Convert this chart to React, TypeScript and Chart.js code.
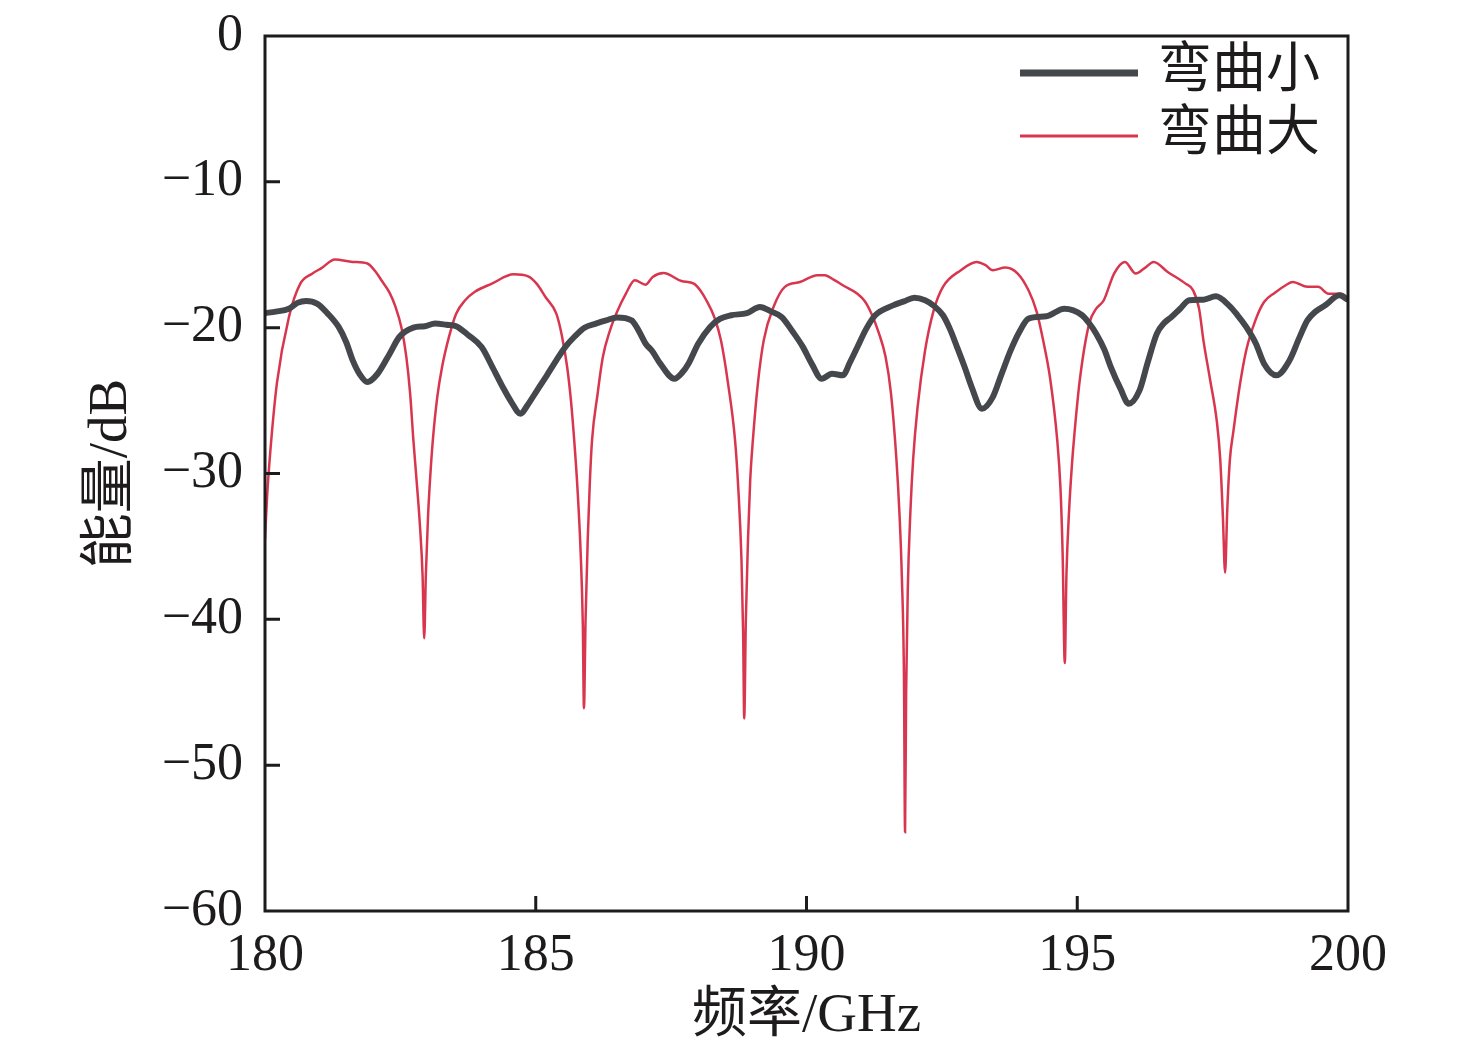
import { useEffect, useRef } from 'react'
import Chart, { ChartOptions, Plugin } from 'chart.js/auto'

const freqSmall = [
  180.0, 180.2, 180.44, 180.6, 180.76, 180.96, 181.15, 181.36, 181.5, 181.62, 181.75, 181.89, 182.08, 182.3,
  182.48, 182.74, 182.95, 183.14, 183.35, 183.53, 183.75, 184.0, 184.2, 184.39, 184.55, 184.72, 184.85, 184.99,
  185.2, 185.38, 185.55, 185.71, 185.9, 186.11, 186.3, 186.5, 186.77, 186.9, 187.03, 187.15, 187.3, 187.56,
  187.7, 187.82, 188.0, 188.22, 188.4, 188.61, 188.9, 189.14, 189.35, 189.54, 189.75, 189.93, 190.1, 190.28,
  190.47, 190.67, 190.8, 190.94, 191.1, 191.27, 191.6, 191.8, 191.99, 192.19, 192.35, 192.52, 192.65, 192.78,
  192.92, 193.05, 193.24, 193.44, 193.6, 193.77, 193.93, 194.1, 194.43, 194.76, 195.09, 195.22, 195.35, 195.5,
  195.62, 195.8, 195.95, 196.15, 196.3, 196.47, 196.6, 196.74, 196.9, 197.07, 197.33, 197.56, 197.8, 197.95,
  198.12, 198.3, 198.45, 198.68, 198.92, 199.1, 199.25, 199.4, 199.58, 199.84, 200.0,
]
const levelSmall = [
  -19.0, -18.9, -18.7, -18.3, -18.17, -18.35, -19.0, -19.95, -21.0, -22.24, -23.2, -23.73, -23.16, -21.8,
  -20.64, -20.0, -19.9, -19.72, -19.8, -19.9, -20.5, -21.33, -22.7, -24.07, -25.1, -25.9, -25.3, -24.5,
  -23.3, -22.24, -21.3, -20.64, -20.0, -19.72, -19.5, -19.3, -19.5, -20.2, -21.1, -21.6, -22.47, -23.5,
  -23.1, -22.47, -21.1, -19.95, -19.4, -19.15, -19.0, -18.58, -18.9, -19.27, -20.3, -21.3, -22.5, -23.5,
  -23.16, -23.27, -22.4, -21.33, -20.1, -19.15, -18.47, -18.2, -17.94, -18.12, -18.5, -19.15, -20.1, -21.33,
  -22.7, -24.07, -25.56, -24.76, -23.2, -21.56, -20.3, -19.38, -19.22, -18.7, -19.15, -19.7, -20.41, -21.5,
  -22.7, -24.2, -25.21, -24.3, -22.4, -20.41, -19.7, -19.27, -18.7, -18.12, -18.08, -17.85, -18.47, -19.1,
  -19.95, -21.1, -22.47, -23.27, -22.24, -20.7, -19.5, -18.9, -18.47, -17.78, -18.1,
]

const freqLarge = [
  180.0, 180.04, 180.1, 180.22, 180.44, 180.65, 180.87, 181.05, 181.29, 181.62, 181.89, 182.05, 182.15, 182.3,
  182.41, 182.52, 182.61, 182.68, 182.74, 182.8, 182.86, 182.91, 182.94, 182.97, 183.01, 183.05, 183.1, 183.18,
  183.27, 183.4, 183.53, 183.7, 183.87, 184.19, 184.59, 184.86, 185.02, 185.18, 185.38, 185.48, 185.58, 185.65,
  185.71, 185.77, 185.83, 185.87, 185.89, 185.92, 185.96, 186.0, 186.04, 186.14, 186.24, 186.37, 186.5, 186.66,
  186.83, 187.03, 187.16, 187.36, 187.69, 187.92, 188.05, 188.15, 188.3, 188.42, 188.55, 188.68, 188.74, 188.8,
  188.83, 188.85, 188.88, 188.92, 188.96, 189.01, 189.1, 189.21, 189.4, 189.6, 189.88, 190.2, 190.34, 190.5,
  190.67, 190.94, 191.08, 191.2, 191.33, 191.46, 191.56, 191.66, 191.72, 191.76, 191.8, 191.82, 191.84, 191.87,
  191.92, 191.97, 192.05, 192.19, 192.35, 192.52, 192.85, 193.14, 193.3, 193.44, 193.67, 193.9, 194.1, 194.25,
  194.37, 194.5, 194.63, 194.69, 194.73, 194.77, 194.8, 194.85, 194.9, 194.95, 195.05, 195.22, 195.35, 195.49,
  195.68, 195.88, 196.08, 196.25, 196.41, 196.67, 197.0, 197.14, 197.25, 197.33, 197.45, 197.58, 197.64, 197.69,
  197.73, 197.77, 197.82, 197.88, 198.0, 198.12, 198.3, 198.45, 198.65, 198.85, 198.98, 199.25, 199.45, 199.64,
  199.88, 200.0,
]
const levelLarge = [
  -34.5, -31.5, -28.4, -23.8, -19.3, -17.0, -16.3, -15.9, -15.33, -15.49, -15.6, -16.2, -16.75, -17.6,
  -18.58, -20.0, -22.0, -24.5, -27.7, -30.5, -33.5, -37.0, -41.3, -37.0, -33.0, -30.3, -27.7, -24.8,
  -22.7, -20.6, -19.04, -18.1, -17.55, -16.98, -16.34, -16.48, -17.0, -17.9, -19.04, -20.5, -22.7, -25.0,
  -27.7, -31.0, -35.5, -40.5, -46.1, -40.0, -34.5, -30.5, -27.7, -24.6, -22.0, -20.2, -18.93, -17.7,
  -16.75, -17.05, -16.52, -16.25, -16.8, -16.98, -17.5, -18.12, -19.3, -20.87, -23.8, -27.7, -31.0, -36.0,
  -41.0, -46.8, -40.0, -34.5, -30.5, -27.7, -23.9, -20.87, -18.5, -17.2, -16.87, -16.4, -16.4, -16.7,
  -17.09, -17.67, -18.2, -19.04, -20.3, -22.0, -24.5, -29.0, -33.0, -37.0, -44.0, -54.6, -45.0, -38.0,
  -32.5, -29.0, -25.5, -21.56, -18.8, -17.2, -16.06, -15.49, -15.7, -16.06, -15.88, -16.29, -17.44, -18.9,
  -20.87, -23.5, -27.7, -31.0, -35.5, -43.0, -37.0, -32.5, -29.5, -27.2, -23.5, -19.72, -18.7, -18.12,
  -16.29, -15.49, -16.29, -15.9, -15.49, -16.18, -16.98, -17.44, -18.7, -20.87, -23.5, -26.5, -29.0, -33.0,
  -36.8, -32.5, -29.0, -27.2, -24.0, -21.56, -19.4, -18.24, -17.6, -17.09, -16.87, -17.2, -17.2, -17.67,
  -17.67, -18.0,
]

const seriesLabels = ['弯曲小', '弯曲大']
const seriesColors = ['#44474c', '#d8364f']
const seriesWidths = [6, 2.5]
const xTicks = [180, 185, 190, 195, 200]
const yTicks = [-60, -50, -40, -30, -20, -10, 0]

const W = 1476
const H = 1058
const FONT = "'Liberation Serif', 'Noto Sans CJK SC', serif"
const INK = '#1d1b1c'

const framePlugin: Plugin<'line'> = {
  id: 'frame',
  afterDraw(chart) {
    const { ctx, chartArea: a } = chart
    const xs = chart.scales.x
    const ys = chart.scales.y
    ctx.save()
    ctx.strokeStyle = INK
    ctx.lineWidth = 3
    ctx.strokeRect(a.left, a.top, a.right - a.left, a.bottom - a.top)
    ctx.beginPath()
    xTicks.slice(1, -1).forEach((v) => {
      const px = xs.getPixelForValue(v)
      ctx.moveTo(px, a.bottom)
      ctx.lineTo(px, a.bottom - 15)
    })
    yTicks.slice(1, -1).forEach((v) => {
      const py = ys.getPixelForValue(v)
      ctx.moveTo(a.left, py)
      ctx.lineTo(a.left + 15, py)
    })
    ctx.stroke()

    // legend
    ctx.textBaseline = 'middle'
    ctx.textAlign = 'left'
    ctx.font = `54px ${FONT}`
    const rows = [73, 136]
    seriesLabels.forEach((label, i) => {
      ctx.strokeStyle = seriesColors[i]
      ctx.lineWidth = i === 0 ? 7 : 3
      ctx.beginPath()
      ctx.moveTo(1020, rows[i])
      ctx.lineTo(1138, rows[i])
      ctx.stroke()
      ctx.fillStyle = INK
      ctx.fillText(label, 1158, rows[i])
    })

    // axis titles
    ctx.fillStyle = INK
    ctx.font = `55px ${FONT}`
    ctx.textAlign = 'center'
    ctx.fillText('频率/GHz', (a.left + a.right) / 2, 1017)
    ctx.translate(112, (a.top + a.bottom) / 2)
    ctx.rotate(-Math.PI / 2)
    ctx.fillText('能量/dB', 0, 0)
    ctx.restore()
  },
}

export default function App() {
  const canvasRef = useRef<HTMLCanvasElement>(null)
  const chartRef = useRef<Chart | null>(null)

  useEffect(() => {
    document.body.style.margin = '0'
    if (!canvasRef.current) return
    if (chartRef.current) chartRef.current.destroy()

    const options: ChartOptions<'line'> = {
      responsive: false,
      animation: false,
      devicePixelRatio: 1,
      layout: { padding: { top: 36, right: 128, left: 0, bottom: 0 } },
      plugins: { legend: { display: false }, tooltip: { enabled: false } },
      elements: { point: { radius: 0 } },
      scales: {
        x: {
          type: 'linear',
          min: 180,
          max: 200,
          afterFit: (s) => {
            s.height = H - 911
            s.paddingLeft = 0
            s.paddingRight = 0
          },
          afterBuildTicks: (s) => { s.ticks = xTicks.map((v) => ({ value: v })) },
          grid: { display: false, drawTicks: false },
          border: { display: false },
          ticks: { color: INK, font: { family: FONT, size: 52 }, padding: 14, maxRotation: 0 },
        },
        y: {
          type: 'linear',
          min: -60,
          max: 0,
          afterFit: (s) => {
            s.width = 265
            s.paddingTop = 0
            s.paddingBottom = 0
          },
          afterBuildTicks: (s) => { s.ticks = yTicks.map((v) => ({ value: v })) },
          grid: { display: false, drawTicks: false },
          border: { display: false },
          ticks: {
            color: INK,
            font: { family: FONT, size: 52 },
            padding: 22,
            callback: (v) => (Number(v) < 0 ? '\u2212' + Math.abs(Number(v)) : String(v)),
          },
        },
      },
    }

    chartRef.current = new Chart(canvasRef.current, {
      type: 'line',
      data: {
        datasets: [
          {
            label: seriesLabels[0],
            data: freqSmall.map((f, i) => ({ x: f, y: levelSmall[i] })),
            borderColor: seriesColors[0],
            borderWidth: seriesWidths[0],
            cubicInterpolationMode: 'monotone',
          },
          {
            label: seriesLabels[1],
            data: freqLarge.map((f, i) => ({ x: f, y: levelLarge[i] })),
            borderColor: seriesColors[1],
            borderWidth: seriesWidths[1],
            cubicInterpolationMode: 'monotone',
          },
        ],
      },
      options,
      plugins: [framePlugin],
    })

    return () => {
      if (chartRef.current) {
        chartRef.current.destroy()
        chartRef.current = null
      }
    }
  }, [])

  return (
    <div style={{ width: W, height: H }}>
      <canvas ref={canvasRef} width={W} height={H} />
    </div>
  )
}
